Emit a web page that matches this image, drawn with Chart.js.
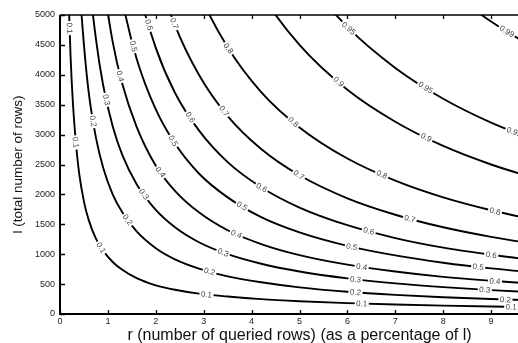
<!DOCTYPE html>
<html>
<head>
<meta charset="utf-8">
<script src="https://cdn.jsdelivr.net/npm/chart.js@4.4.1/dist/chart.umd.min.js"></script>
<style>
  html, body { margin: 0; padding: 0; background: #fff; overflow: hidden; }
  #wrap { width: 518px; height: 343px; overflow: hidden; }
</style>
</head>
<body>
<div id="wrap"><canvas id="chart" width="541" height="343"></canvas></div>
<script>
/* ===== Contour plot: r vs l ===== */

const rGrid = [0.15, 0.18, 0.22, 0.27, 0.33, 0.4, 0.5, 0.6, 0.75, 0.9, 1.1, 1.3, 1.6, 2, 2.4, 2.9, 3.5, 4.2, 5, 6, 7, 8, 9, 10];

const levels = ['0.1', '0.2', '0.3', '0.4', '0.5', '0.6', '0.7', '0.8', '0.9', '0.95', '0.99'];

// l (total rows) of each contour at the r values above (null = off the plot)
const l01  = [6300, 5280, 4320, 3520, 2880, 2350, 1880, 1570, 1260, 1060, 870, 740, 600, 480, 405, 340, 292, 248, 214, 182, 158, 140, 125, 113];
const l02  = [null, null, null, null, 6700, 5600, 4500, 3700, 2950, 2450, 2000, 1700, 1380, 1100, 915, 760, 630, 530, 445, 372, 320, 280, 250, 225];
const l03  = [null, null, null, null, null, null, 7200, 5750, 4600, 3830, 3140, 2660, 2170, 1740, 1450, 1200, 1000, 840, 710, 595, 512, 450, 400, 360];
const l04  = [null, null, null, null, null, null, null, null, 6700, 5600, 4550, 3850, 3130, 2480, 2060, 1700, 1400, 1170, 985, 825, 710, 620, 555, 500];
const l05  = [null, null, null, null, null, null, null, null, null, 7550, 6200, 5250, 4270, 3420, 2850, 2350, 1950, 1620, 1365, 1140, 980, 858, 763, 688];
const l06  = [null, null, null, null, null, null, null, null, null, null, 8100, 6850, 5560, 4450, 3700, 3070, 2540, 2120, 1780, 1485, 1270, 1110, 990, 890];
const l07  = [null, null, null, null, null, null, null, null, null, null, null, null, 7250, 5800, 4830, 4000, 3310, 2760, 2320, 1935, 1660, 1450, 1290, 1160];
const l08  = [null, null, null, null, null, null, null, null, null, null, null, null, null, 7800, 6500, 5380, 4460, 3710, 3120, 2600, 2230, 1950, 1735, 1560];
const l09  = [null, null, null, null, null, null, null, null, null, null, null, null, null, null, null, 7760, 6430, 5360, 4500, 3750, 3215, 2810, 2500, 2250];
const l095 = [null, null, null, null, null, null, null, null, null, null, null, null, null, null, null, null, null, 6860, 5760, 4800, 4115, 3600, 3200, 2880];
const l099 = [null, null, null, null, null, null, null, null, null, null, null, null, null, null, null, null, null, null, null, null, 6290, 5500, 4890, 4400];
const lRows = [l01, l02, l03, l04, l05, l06, l07, l08, l09, l095, l099];

// inline contour labels (level, approx r, approx l)
const labelLevel = ['0.1','0.1','0.1','0.1','0.1','0.1',
                    '0.2','0.2','0.2','0.2','0.2',
                    '0.3','0.3','0.3','0.3','0.3',
                    '0.4','0.4','0.4','0.4','0.4',
                    '0.5','0.5','0.5','0.5','0.5',
                    '0.6','0.6','0.6','0.6','0.6',
                    '0.7','0.7','0.7','0.7',
                    '0.8','0.8','0.8','0.8',
                    '0.9','0.9',
                    '0.95','0.95','0.95',
                    '0.99'];
const labelR = [0.21, 0.35, 0.9, 3.06, 6.3, 9.42,
                0.66, 1.42, 3.12, 6.17, 9.3,
                0.96, 1.75, 3.39, 6.17, 8.87,
                1.21, 2.06, 3.68, 6.3, 9.08,
                1.5, 2.33, 3.8, 6.09, 8.73,
                1.83, 2.74, 4.2, 6.44, 9.0,
                2.43, 3.47, 4.99, 7.3,
                3.53, 4.86, 6.7, 9.08,
                5.8, 7.63,
                6.03, 7.63, 9.46,
                9.31];
const labelL = [4780, 2870, 1130, 340, 180, 120,
                3220, 1580, 700, 367, 260,
                3580, 2000, 1000, 583, 417,
                3970, 2350, 1333, 800, 550,
                4470, 2880, 1800, 1117, 783,
                4830, 3300, 2100, 1367, 967,
                4870, 3420, 2333, 1583,
                4450, 3200, 2300, 1717,
                3870, 2930,
                4780, 3780, 3000,
                4700];

const xTitle = 'r (number of queried rows) (as a percentage of l)';
const yTitle = 'l (total number of rows)';

const FONT = '"Liberation Sans", Arial, sans-serif';

// labels sit on the nearest point of their contour, turned along it
const contourLabels = {
  id: 'contourLabels',
  afterDatasetsDraw(chart) {
    const { ctx, scales: { x, y }, chartArea } = chart;
    ctx.save();
    ctx.beginPath();
    ctx.rect(chartArea.left, chartArea.top, chartArea.right - chartArea.left, chartArea.bottom - chartArea.top);
    ctx.clip();
    ctx.font = '8px ' + FONT;
    ctx.textAlign = 'center';
    ctx.textBaseline = 'middle';
    labelLevel.forEach((lv, k) => {
      const pts = chart.getDatasetMeta(levels.indexOf(lv)).data;
      const px = x.getPixelForValue(labelR[k]);
      const py = y.getPixelForValue(labelL[k]);
      let best = null;
      for (let j = 0; j < pts.length - 1; j++) {
        const a = pts[j], b = pts[j + 1];
        const dx = b.x - a.x, dy = b.y - a.y;
        const len2 = dx * dx + dy * dy || 1;
        const t = Math.max(0, Math.min(1, ((px - a.x) * dx + (py - a.y) * dy) / len2));
        const qx = a.x + t * dx, qy = a.y + t * dy;
        const d = (qx - px) ** 2 + (qy - py) ** 2;
        if (!best || d < best.d) best = { d, qx, qy, ang: Math.atan2(dy, dx) };
      }
      const w = ctx.measureText(lv).width;
      ctx.save();
      ctx.translate(best.qx, best.qy);
      ctx.rotate(best.ang);
      ctx.fillStyle = '#fff';
      ctx.fillRect(-w / 2 - 1.5, -4, w + 3, 8);
      ctx.fillStyle = '#444';
      ctx.fillText(lv, 0, 0.5);
      ctx.restore();
    });
    ctx.restore();
  }
};

// box on three sides, inward tick marks, axis titles
const frame = {
  id: 'frame',
  afterDraw(chart) {
    const { ctx, scales: { x, y }, chartArea: a } = chart;
    ctx.save();
    ctx.strokeStyle = '#000';
    ctx.lineWidth = 2;
    ctx.beginPath();
    ctx.moveTo(a.left, a.top);
    ctx.lineTo(a.left, a.bottom);
    ctx.lineTo(a.right, a.bottom);
    ctx.stroke();
    ctx.lineWidth = 1.5;
    ctx.beginPath();
    ctx.moveTo(a.left, a.top);
    ctx.lineTo(a.right, a.top);
    ctx.stroke();

    ctx.lineWidth = 1.3;
    ctx.beginPath();
    x.ticks.forEach(t => {
      const px = Math.round(x.getPixelForValue(t.value)) + 0.5;
      ctx.moveTo(px, a.bottom);
      ctx.lineTo(px, a.bottom - 4);
      ctx.moveTo(px, a.top);
      ctx.lineTo(px, a.top + 4);
    });
    y.ticks.forEach(t => {
      const py = Math.round(y.getPixelForValue(t.value)) + 0.5;
      ctx.moveTo(a.left, py);
      ctx.lineTo(a.left + 5, py);
    });
    ctx.stroke();

    ctx.fillStyle = '#111';
    ctx.textAlign = 'center';
    ctx.textBaseline = 'alphabetic';
    ctx.font = '16px ' + FONT;
    ctx.fillText(xTitle, (a.left + a.right) / 2, 340);
    ctx.translate(22, (a.top + a.bottom) / 2);
    ctx.rotate(-Math.PI / 2);
    ctx.font = '13.5px ' + FONT;
    ctx.fillText(yTitle, 0, 0);
    ctx.restore();
  }
};

const datasets = levels.map((lv, i) => ({
  label: lv,
  data: rGrid.map((r, j) => ({ x: r, y: lRows[i][j] })).filter(p => p.y !== null),
  borderColor: '#000',
  borderWidth: 1.9,
  pointRadius: 0,
  fill: false,
  cubicInterpolationMode: 'monotone'
}));

new Chart(document.getElementById('chart').getContext('2d'), {
  type: 'line',
  data: { datasets },
  options: {
    responsive: false,
    animation: false,
    devicePixelRatio: 1,
    layout: { padding: { top: 15, right: 0, left: 0, bottom: 0 } },
    plugins: { legend: { display: false }, tooltip: { enabled: false } },
    scales: {
      x: {
        type: 'linear',
        min: 0,
        max: 10,
        afterFit: s => { s.height = 29; },
        border: { display: false },
        grid: { display: false, drawTicks: false },
        ticks: {
          stepSize: 1,
          includeBounds: false,
          maxRotation: 0,
          padding: 2,
          color: '#222',
          font: { family: FONT, size: 9 },
          callback: v => (v === 10 ? '' : String(v))
        }
      },
      y: {
        type: 'linear',
        min: 0,
        max: 5000,
        afterFit: s => { s.width = 60; },
        border: { display: false },
        grid: { display: false, drawTicks: false },
        ticks: {
          stepSize: 500,
          padding: 5,
          color: '#222',
          font: { family: FONT, size: 9 },
          callback: v => String(v)
        }
      }
    }
  },
  plugins: [contourLabels, frame]
});
</script>
</body>
</html>
